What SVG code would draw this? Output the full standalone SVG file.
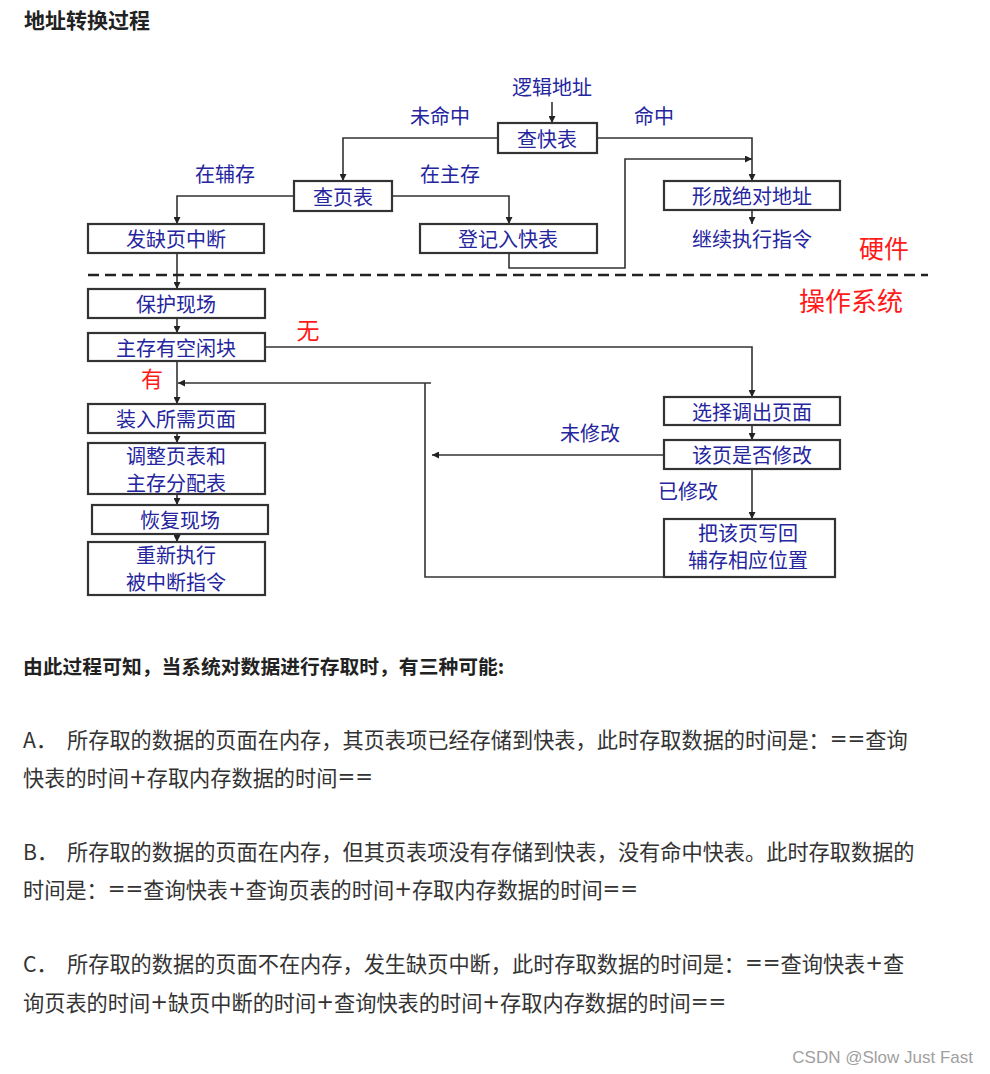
<svg xmlns="http://www.w3.org/2000/svg" width="990" height="1074" viewBox="0 0 990 1074">
<style>
.bx{fill:#fff;stroke:#333;stroke-width:2.2}
.bt{font-family:"Noto Sans CJK SC",sans-serif;font-size:20px;fill:#25259e;text-anchor:middle;dominant-baseline:central}
.lb{font-family:"Noto Sans CJK SC",sans-serif;font-size:20px;fill:#25259e;text-anchor:middle;dominant-baseline:central}
.red{font-family:"Noto Sans CJK SC",sans-serif;fill:#ff1a1a;text-anchor:middle;dominant-baseline:central}
.cn{fill:none;stroke:#333;stroke-width:1.6}
.p{font-family:"Noto Sans CJK SC",sans-serif;font-size:21.2px;fill:#333;dominant-baseline:central}
.s{font-family:"DejaVu Sans",sans-serif}
.h{font-family:"Noto Sans CJK SC",sans-serif;font-weight:bold;fill:#222;dominant-baseline:central}
</style>
<defs>
<marker id="ah" viewBox="0 0 10 10" refX="10" refY="5" markerWidth="7" markerHeight="7" markerUnits="userSpaceOnUse" orient="auto"><path d="M0,0 L10,5 L0,10 z" fill="#222"/></marker>
</defs>
<rect width="990" height="1074" fill="#fff"/>
<text class="h" x="24" y="19" font-size="21">地址转换过程</text>

<g id="connectors">
<path class="cn" d="M552,102 V123" marker-end="url(#ah)"/>
<path class="cn" d="M498,138 H343 V181" marker-end="url(#ah)"/>
<path class="cn" d="M597,138 H752 V181" marker-end="url(#ah)"/>
<path class="cn" d="M294,196 H177 V224" marker-end="url(#ah)"/>
<path class="cn" d="M392,196 H509 V224" marker-end="url(#ah)"/>
<path class="cn" d="M509,253 V268 H625 V159 H752" marker-end="url(#ah)"/>
<path class="cn" d="M752,210 V224" marker-end="url(#ah)"/>
<path class="cn" d="M177,253 V289" marker-end="url(#ah)"/>
<path class="cn" d="M177,318 V333" marker-end="url(#ah)"/>
<path class="cn" d="M177,361 V404" marker-end="url(#ah)"/>
<path class="cn" d="M265,347 H752 V397" marker-end="url(#ah)"/>
<path class="cn" d="M752,425 V440" marker-end="url(#ah)"/>
<path class="cn" d="M752,469 V519" marker-end="url(#ah)"/>
<path class="cn" d="M664,455 H432" marker-end="url(#ah)"/>
<path class="cn" d="M752,567 V577 H425 V383"/>
<path class="cn" d="M431,383 H178" marker-end="url(#ah)"/>
<path class="cn" d="M177,433 V443" marker-end="url(#ah)"/>
<path class="cn" d="M177,494 V505" marker-end="url(#ah)"/>
<path class="cn" d="M177,534 V542" marker-end="url(#ah)"/>
<line x1="88" y1="275" x2="928" y2="275" stroke="#222" stroke-width="2.6" stroke-dasharray="11 6"/>
</g>

<g id="n-logic"><text class="lb" x="552" y="86">逻辑地址</text></g>
<g id="n-tlb"><rect class="bx" x="498" y="123" width="99" height="30"/><text class="bt" x="547" y="138">查快表</text></g>
<g id="l-miss"><text class="lb" x="440" y="115">未命中</text></g>
<g id="l-hit"><text class="lb" x="654" y="115">命中</text></g>
<g id="n-pt"><rect class="bx" x="294" y="181" width="98" height="30"/><text class="bt" x="343" y="196">查页表</text></g>
<g id="l-aux"><text class="lb" x="225" y="173">在辅存</text></g>
<g id="l-main"><text class="lb" x="450" y="173">在主存</text></g>
<g id="n-fault"><rect class="bx" x="88" y="224" width="176" height="29"/><text class="bt" x="176" y="238">发缺页中断</text></g>
<g id="n-reg"><rect class="bx" x="420" y="224" width="177" height="29"/><text class="bt" x="508" y="238">登记入快表</text></g>
<g id="n-abs"><rect class="bx" x="664" y="181" width="176" height="29"/><text class="bt" x="752" y="195">形成绝对地址</text></g>
<g id="n-cont"><text class="lb" x="752" y="238">继续执行指令</text></g>
<g id="l-hw"><text class="red" x="884" y="247" font-size="25">硬件</text></g>
<g id="l-os"><text class="red" x="851" y="299" font-size="26">操作系统</text></g>
<g id="n-save"><rect class="bx" x="88" y="289" width="177" height="29"/><text class="bt" x="176" y="303">保护现场</text></g>
<g id="n-free"><rect class="bx" x="88" y="333" width="177" height="28"/><text class="bt" x="176" y="347">主存有空闲块</text></g>
<g id="l-no"><text class="red" x="308" y="329" font-size="23">无</text></g>
<g id="l-yes"><text class="red" x="152" y="377" font-size="22">有</text></g>
<g id="n-load"><rect class="bx" x="88" y="404" width="177" height="29"/><text class="bt" x="176" y="418">装入所需页面</text></g>
<g id="n-adj"><rect class="bx" x="88" y="443" width="177" height="51"/><text class="bt" x="176" y="455">调整页表和</text><text class="bt" x="176" y="482">主存分配表</text></g>
<g id="n-rest"><rect class="bx" x="92" y="505" width="176" height="29"/><text class="bt" x="180" y="519">恢复现场</text></g>
<g id="n-reexec"><rect class="bx" x="88" y="542" width="177" height="53"/><text class="bt" x="176" y="554">重新执行</text><text class="bt" x="176" y="581">被中断指令</text></g>
<g id="n-sel"><rect class="bx" x="664" y="397" width="176" height="28"/><text class="bt" x="752" y="411">选择调出页面</text></g>
<g id="n-mod"><rect class="bx" x="664" y="440" width="176" height="29"/><text class="bt" x="752" y="454">该页是否修改</text></g>
<g id="l-unmod"><text class="lb" x="590" y="432">未修改</text></g>
<g id="l-moded"><text class="lb" x="688" y="490">已修改</text></g>
<g id="n-write"><rect class="bx" x="664" y="519" width="171" height="58"/><text class="bt" x="748" y="532">把该页写回</text><text class="bt" x="748" y="559">辅存相应位置</text></g>

<text class="h" x="23" y="665" font-size="19.8">由此过程可知，当系统对数据进行存取时，有三种可能:</text>
<text class="p" x="23" y="738">A．<tspan x="67">所存取的数据的页面在内存，其页表项已经存储到快表，此时存取数据的时间是：<tspan class="s">==</tspan>查询</tspan></text>
<text class="p" x="23" y="776">快表的时间<tspan class="s">+</tspan>存取内存数据的时间<tspan class="s">==</tspan></text>
<text class="p" x="23" y="850">B．<tspan x="67">所存取的数据的页面在内存，但其页表项没有存储到快表，没有命中快表。此时存取数据的</tspan></text>
<text class="p" x="23" y="888">时间是：<tspan class="s">==</tspan>查询快表<tspan class="s">+</tspan>查询页表的时间<tspan class="s">+</tspan>存取内存数据的时间<tspan class="s">==</tspan></text>
<text class="p" x="23" y="962">C．<tspan x="67">所存取的数据的页面不在内存，发生缺页中断，此时存取数据的时间是：<tspan class="s">==</tspan>查询快表<tspan class="s">+</tspan>查</tspan></text>
<text class="p" x="23" y="1001">询页表的时间<tspan class="s">+</tspan>缺页中断的时间<tspan class="s">+</tspan>查询快表的时间<tspan class="s">+</tspan>存取内存数据的时间<tspan class="s">==</tspan></text>
<text x="973" y="1057" font-family="Liberation Sans, sans-serif" font-size="17" fill="#a0a0a0" text-anchor="end" dominant-baseline="central">CSDN @Slow Just Fast</text>
</svg>
